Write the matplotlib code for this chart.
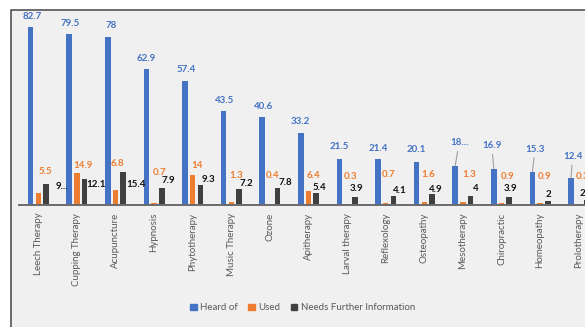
import matplotlib
matplotlib.use("Agg")
import matplotlib.pyplot as plt
from matplotlib.patches import Rectangle, Patch

plt.rcParams['font.family'] = ['Lato', 'DejaVu Sans']

categories = ["Leech Therapy", "Cupping Therapy", "Acupuncture", "Hypnosis", "Phytotherapy",
              "Music Therapy", "Ozone", "Apitherapy", "Larval therapy", "Reflexology",
              "Osteopathy", "Mesotherapy", "Chiropractic", "Homeopathy", "Prolotherapy"]
heard_of = [82.7, 79.5, 78, 62.9, 57.4, 43.5, 40.6, 33.2, 21.5, 21.4, 20.1, 18.2, 16.9, 15.3, 12.4]
used = [5.5, 14.9, 6.8, 0.7, 14, 1.3, 0.4, 6.4, 0.3, 0.7, 1.6, 1.3, 0.9, 0.9, 0.3]
needs_info = [9.8, 12.1, 15.4, 7.9, 9.3, 7.2, 7.8, 5.4, 3.9, 4.1, 4.9, 4, 3.9, 2, 2.2]
series_names = ["Heard of", "Used", "Needs Further Information"]

# displayed label texts (Excel truncated two of them)
heard_labels = [f"{v:g}" for v in heard_of]
heard_labels[11] = "18..."
used_labels = [f"{v:g}" for v in used]
needs_labels = [f"{v:g}" for v in needs_info]
needs_labels[0] = "9..."

# label offsets in pixels (dx, dy) relative to top centre of each bar
blue_off = [(1.5, 10), (1.4, 10.3), (3.3, 11.5), (0, 11), (1.6, 12), (1, 10.5), (1, 10.8),
            (0, 11.7), (0, 11.9), (0, 10.6), (0, 11.7), (4, 23), (-2, 23), (2.7, 23), (1.6, 21.6)]
orange_off = [(7.2, 21.4), (6.1, 7.2), (1.5, 27.3), (5.9, 30.8), (4.3, 9.1), (4.7, 26.5),
              (3.1, 28.4), (5, 16.2), (3.9, 27.7), (3.3, 28.5), (4.2, 26.6), (6.1, 27.2),
              (6.5, 26.8), (4.9, 26.8), (4.3, 27.5)]
dark_off = [(15.5, -2.8), (11.9, -5.4), (12.8, -12.5), (6.2, 7), (7.6, 5), (7, 6.2), (7.9, 5.9),
            (3.3, 5.7), (1.2, 7.6), (6.1, 5.2), (4, 5.4), (4.9, 7.4), (1.3, 8.3), (0.7, 6.4), (0, 6.3)]

c_blue, c_orange, c_dark = "#4472C4", "#ED7D31", "#404040"
W, H = 585, 327

fig = plt.figure(figsize=(W / 100, H / 100), dpi=100)
fig.patch.set_facecolor("white")
fig.add_artist(Rectangle((11 / W, -0.2), 1.5, 1.2 - 9.5 / H, transform=fig.transFigure,
                         facecolor="#F0F0F0", edgecolor="#454545", lw=1.1, zorder=0))

ax = fig.add_axes([19 / W, 122 / H, 579 / W, 194 / H])
ax.patch.set_visible(False)
ax.set_xlim(-0.5, len(categories) - 0.5)
ax.set_ylim(0, 90)
for s in ["top", "right", "left"]:
    ax.spines[s].set_visible(False)
ax.spines["bottom"].set_color("#6a6a6a")
ax.spines["bottom"].set_linewidth(1.4)
ax.set_yticks([])

x = list(range(len(categories)))
bw = 0.143
off = 0.2
ax.bar([i - off for i in x], heard_of, bw, color=c_blue, zorder=2)
ax.bar(x, used, bw, color=c_orange, zorder=2)
ax.bar([i + off for i in x], needs_info, bw, color=c_dark, zorder=2)

ax.set_xticks(x)
ax.set_xticklabels(categories, rotation=90, fontsize=7, color="#595959")
ax.tick_params(axis="x", length=0, pad=5.5)

lbl = dict(ha="center", va="center", fontsize=7, fontweight="bold",
           textcoords="offset pixels", annotation_clip=False)
for i in x:
    dx, dy = blue_off[i]
    kw = dict(lbl)
    if i >= 11:
        kw["arrowprops"] = dict(arrowstyle="-", color="#a0a0a0", lw=0.8, shrinkA=1, shrinkB=0)
    ax.annotate(heard_labels[i], xy=(i - off, heard_of[i]), xytext=(dx, dy), color=c_blue, **kw)
    dx, dy = orange_off[i]
    ax.annotate(used_labels[i], xy=(i, used[i]), xytext=(dx, dy), color=c_orange, **lbl)
    dx, dy = dark_off[i]
    ax.annotate(needs_labels[i], xy=(i + off, needs_info[i]), xytext=(dx, dy), color="#111111", **lbl)

handles = [Patch(color=c) for c in (c_blue, c_orange, c_dark)]
leg = fig.legend(handles, series_names, loc="center", bbox_to_anchor=(302.5 / W, 1 - 307.7 / H),
                 ncol=3, frameon=False, fontsize=7, handlelength=0.65, handleheight=0.65,
                 columnspacing=1.1, handletextpad=0.35, borderaxespad=0)
for t in leg.get_texts():
    t.set_color("#595959")

fig.savefig("out.png", dpi=100, facecolor="white")
